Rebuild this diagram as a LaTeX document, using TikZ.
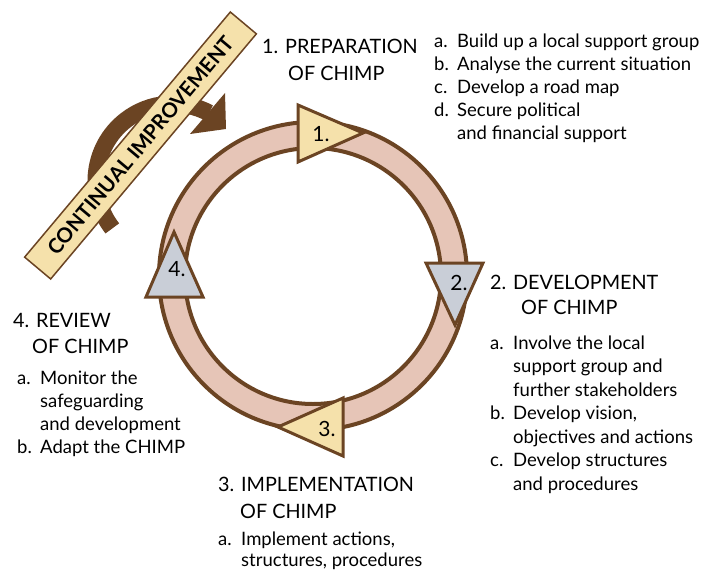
\documentclass[tikz,border=0pt]{standalone}
\usepackage{fontspec}
\setmainfont{Lato}
\definecolor{brn}{HTML}{6B4423}
\definecolor{ringfill}{HTML}{E6C5B7}
\definecolor{yel}{HTML}{F5E1AB}
\definecolor{gry}{HTML}{C9CED7}
\newcommand\itm[1]{\makebox[23pt][l]{#1}}
\begin{document}
\begin{tikzpicture}[x=1pt,y=-1pt,
  txt/.style={anchor=base west, inner sep=0pt, font=\fontsize{18.5}{23}\selectfont},
  head/.style={anchor=base west, inner sep=0pt, font=\fontsize{19.8}{27}\selectfont},
  tri/.style={draw=brn, line width=3pt, line join=miter},
  num/.style={inner sep=0pt, font=\fontsize{21}{24}\selectfont},
  banner/.style={draw=brn, fill=yel, line width=1.5pt, inner sep=0pt,
    minimum width=320pt, minimum height=34pt,
    font=\bfseries\fontsize{20.5}{22}\selectfont}]
\useasboundingbox (0,0) rectangle (703,572);
% continual improvement arrow
\coordinate (ac) at (173,181);
\draw[brn, line width=17pt] (ac) ++(142:77) arc[start angle=142, end angle=298, radius=77];
\fill[brn] (225,93) -- (226,129) -- (190,134) -- cycle;
\node[banner, rotate=50] (ci) at (140.5,145.5) {CONTINUAL IMPROVEMENT};
% ring
\coordinate (c) at (313,276);
\fill[ringfill, even odd rule] (c) circle[radius=155] (c) circle[radius=127];
\draw[brn, line width=4pt] (c) circle[radius=154];
\draw[brn, line width=4pt] (c) circle[radius=128];
% triangles
\filldraw[tri, fill=yel] (298,105) -- (298,162) -- (363,133) -- cycle;
\filldraw[tri, fill=gry] (426,263) -- (483,263) -- (455,325) -- cycle;
\filldraw[tri, fill=yel] (343,398) -- (343,456) -- (278,427) -- cycle;
\filldraw[tri, fill=gry] (174,232) -- (146,297) -- (203,297) -- cycle;
\node[num] (n1) at (321,134) {1.};
\node[num] (n2) at (459,283) {2.};
\node[num] (n3) at (327,429) {3.};
\node[num] (n4) at (177,269) {4.};
% headings
\node[head] (h1) at (262,54) {\begin{tabular}[t]{@{}l@{}}1. PREPARATION\\\hspace{26pt}OF CHIMP\end{tabular}};
\node[head] (h2) at (490,289) {\begin{tabular}[t]{@{}l@{}}2. DEVELOPMENT\\[-1.5pt]\hspace{31pt}OF CHIMP\end{tabular}};
\node[head] (h3) at (218,491) {\begin{tabular}[t]{@{}l@{}}3. IMPLEMENTATION\\\hspace{22pt}OF CHIMP\end{tabular}};
\node[head] (h4) at (13,327) {\begin{tabular}[t]{@{}l@{}}4. REVIEW\\[-1pt]\hspace{19pt}OF CHIMP\end{tabular}};
% lists
\node[txt] (l1) at (434,48) {\begin{tabular}[t]{@{}l@{}}
\itm{a.}Build up a local support group\\
\itm{b.}Analyse the current situation\\
\itm{c.}Develop a road map\\
\itm{d.}Secure political\\
\itm{}and financial support\end{tabular}};
\node[txt, font=\fontsize{18.5}{23.5}\selectfont] (l2) at (490,349) {\begin{tabular}[t]{@{}l@{}}
\itm{a.}Involve the local\\
\itm{}support group and\\
\itm{}further stakeholders\\
\itm{b.}Develop vision,\\
\itm{}objectives and actions\\
\itm{c.}Develop structures\\
\itm{}and procedures\end{tabular}};
\node[txt, font=\fontsize{18.5}{21.5}\selectfont] (l3) at (218,545) {\begin{tabular}[t]{@{}l@{}}
\itm{a.}Implement actions,\\
\itm{}structures, procedures\end{tabular}};
\node[txt] (l4) at (17,384) {\begin{tabular}[t]{@{}l@{}}
\itm{a.}Monitor the\\
\itm{}safeguarding\\
\itm{}and development\\
\itm{b.}Adapt the CHIMP\end{tabular}};
\end{tikzpicture}
\end{document}
